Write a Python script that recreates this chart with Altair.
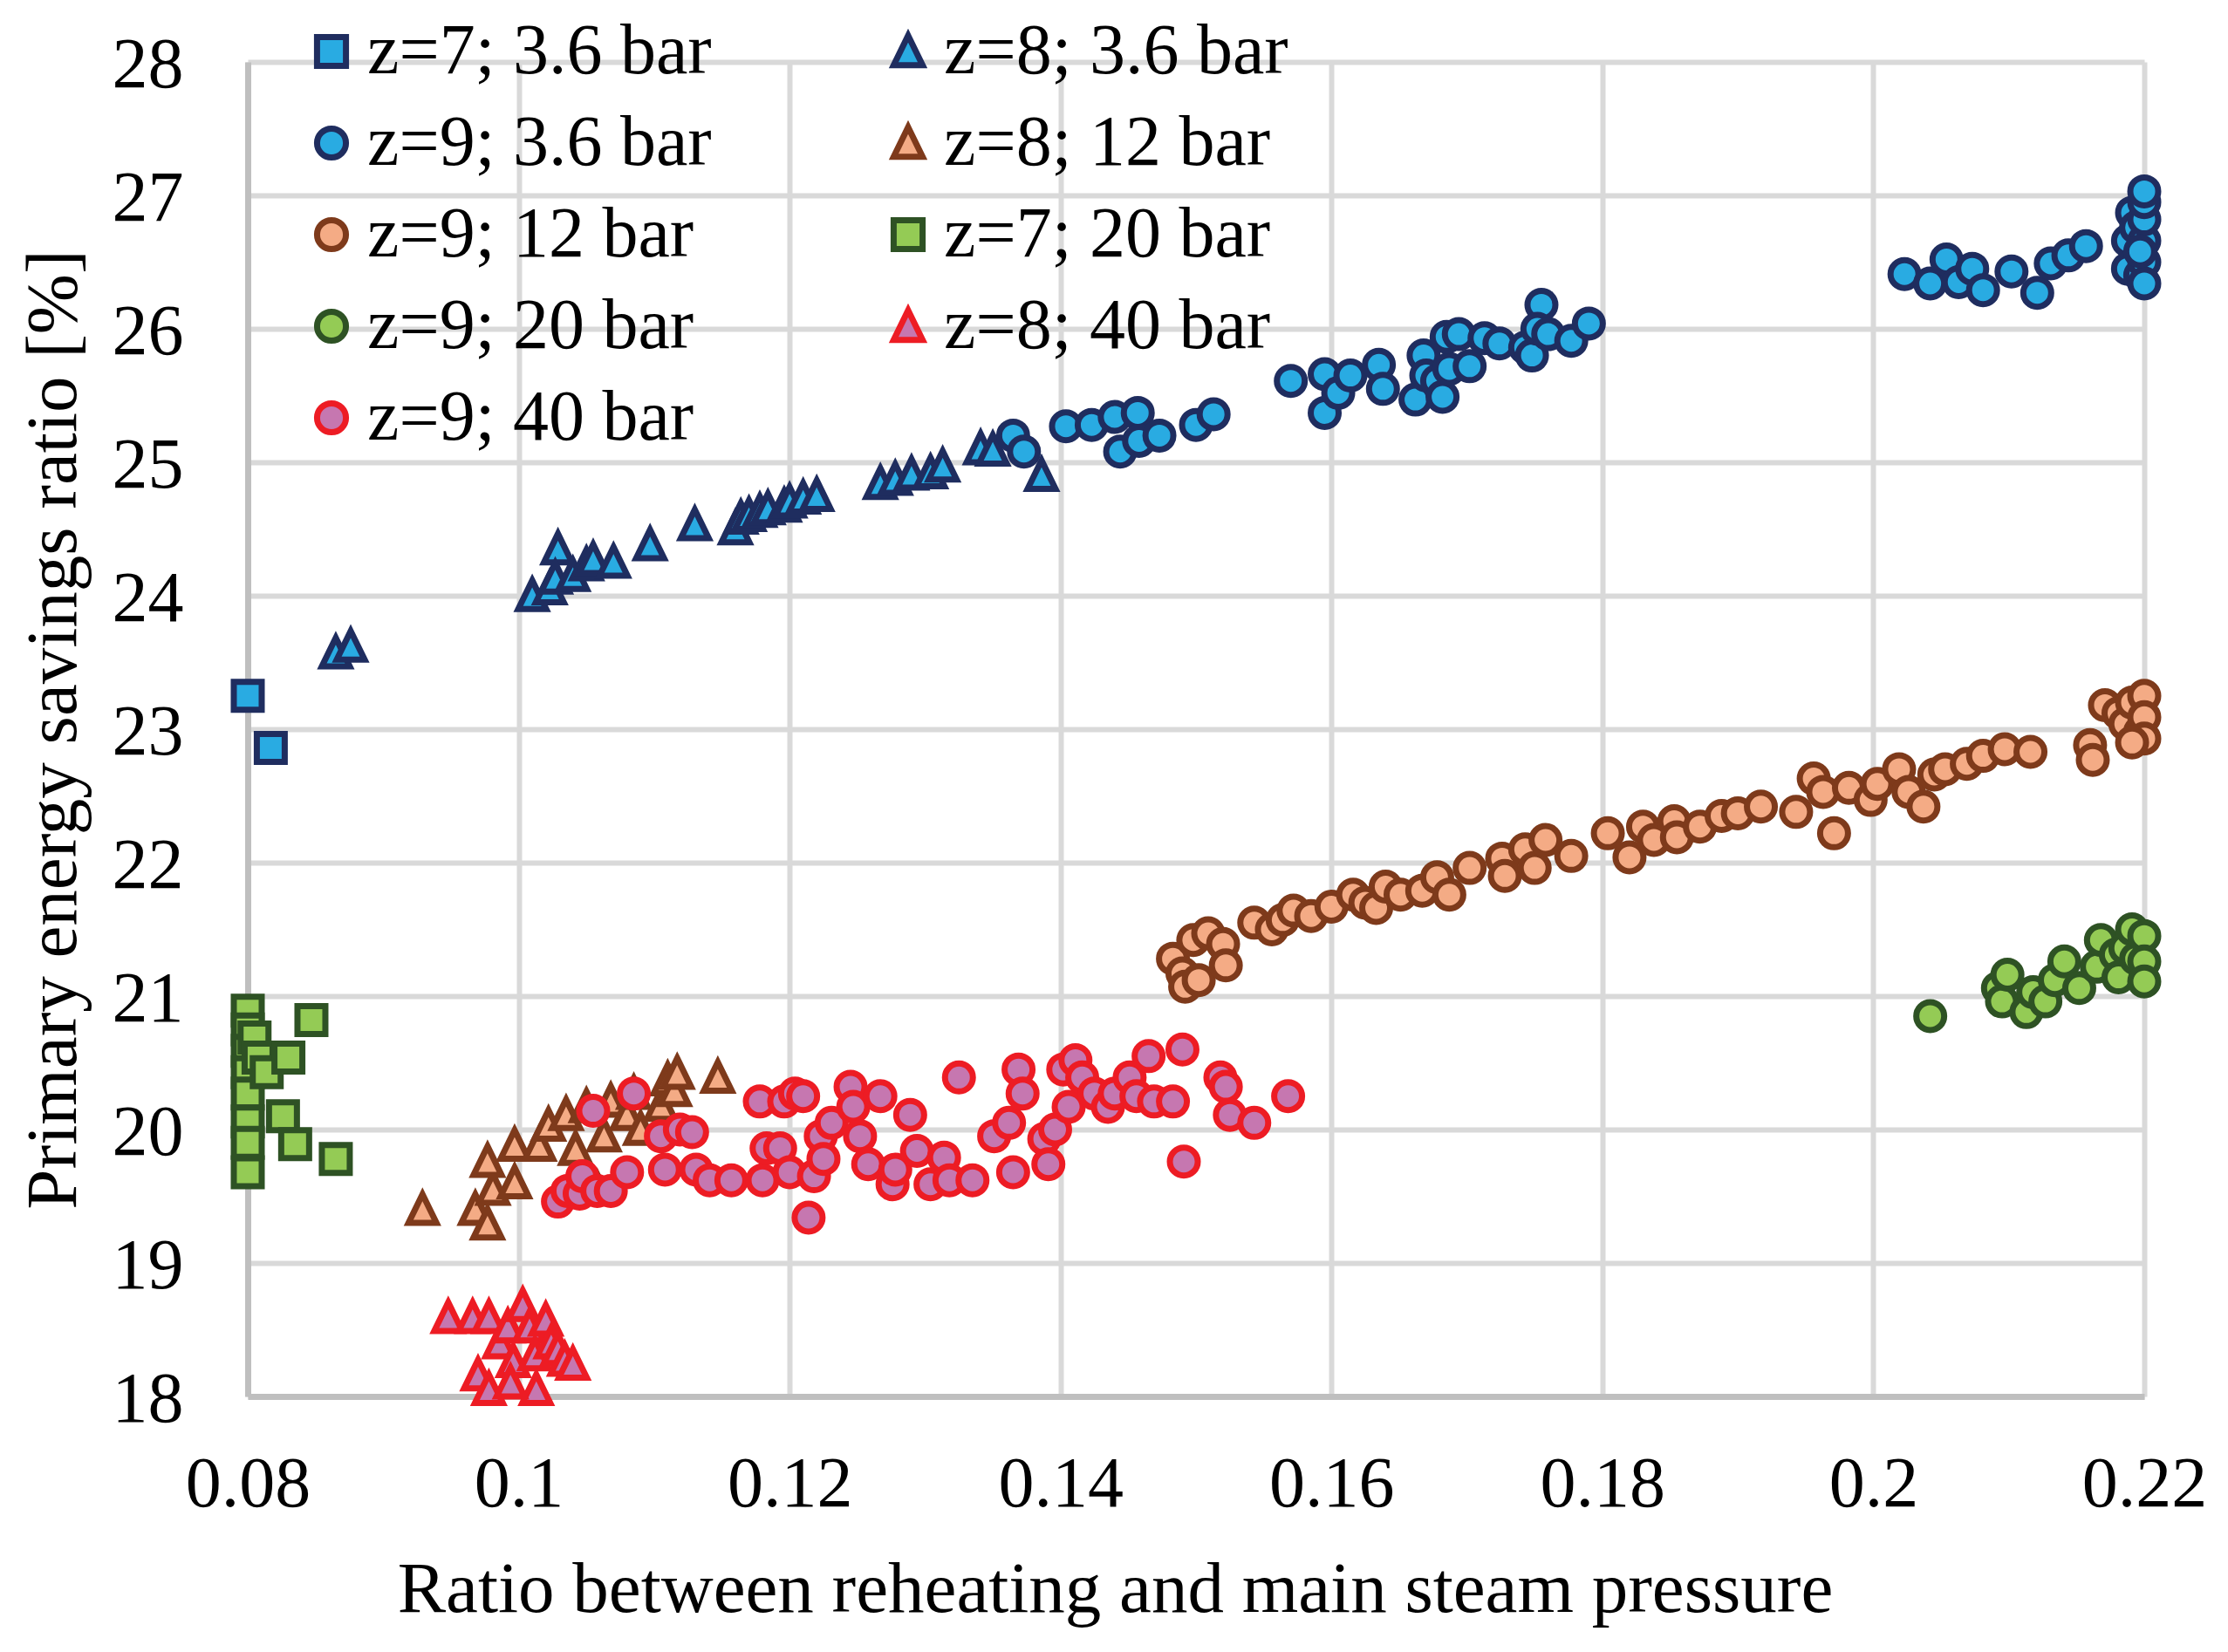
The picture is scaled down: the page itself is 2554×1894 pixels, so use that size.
import altair as alt
import pandas as pd

SERIES = [
    "z=7; 3.6 bar", "z=8; 3.6 bar", "z=9; 3.6 bar", "z=8; 12 bar", "z=9; 12 bar",
    "z=7; 20 bar", "z=9; 20 bar", "z=8; 40 bar", "z=9; 40 bar",
]
# legend fills column by column, so list the left column first
LEGEND_ORDER = [
    "z=7; 3.6 bar", "z=9; 3.6 bar", "z=9; 12 bar", "z=9; 20 bar", "z=9; 40 bar",
    "z=8; 3.6 bar", "z=8; 12 bar", "z=7; 20 bar", "z=8; 40 bar",
]

# z=7; 3.6 bar
z7_36_x = [0.0800, 0.0817]
z7_36_y = [23.25, 22.86]

# z=8; 3.6 bar
z8_36_x = [0.0865, 0.0876, 0.1010, 0.1023, 0.1029, 0.1027, 0.1040, 0.1050, 0.1055, 0.1070,
           0.1097, 0.1130, 0.1160, 0.1164, 0.1170, 0.1178, 0.1184, 0.1196, 0.1200, 0.1210,
           0.1220, 0.1267, 0.1278, 0.1290, 0.1304, 0.1313, 0.1341, 0.1350, 0.1386]
z8_36_y = [23.57, 23.62, 24.00, 24.05, 24.35, 24.13, 24.15, 24.23, 24.27, 24.25,
           24.38, 24.53, 24.50, 24.58, 24.60, 24.63, 24.65, 24.67, 24.70, 24.73,
           24.75, 24.84, 24.87, 24.91, 24.92, 24.97, 25.10, 25.09, 24.90]

# z=9; 3.6 bar
z9_36_x = [0.1365, 0.1373, 0.1404, 0.1423, 0.1440, 0.1444, 0.1457, 0.1458, 0.1473, 0.1500,
           0.1513, 0.1570, 0.1595, 0.1595, 0.1605, 0.1614, 0.1635, 0.1638, 0.1662, 0.1668,
           0.1670, 0.1678, 0.1682, 0.1687, 0.1685, 0.1694, 0.1702, 0.1713, 0.1724, 0.1743,
           0.1748, 0.1755, 0.1752, 0.1760, 0.1777, 0.1790,
           0.2023, 0.2042, 0.2054, 0.2063, 0.2073, 0.2081, 0.2102, 0.2121, 0.2131, 0.2144,
           0.2157, 0.2188, 0.2188, 0.2191, 0.2194, 0.2197, 0.2200, 0.2200, 0.2200, 0.2200,
           0.2200, 0.2200, 0.2197]
z9_36_y = [25.20, 25.08, 25.27, 25.28, 25.34, 25.08, 25.37, 25.16, 25.20, 25.28,
           25.36, 25.61, 25.66, 25.37, 25.52, 25.65, 25.73, 25.55, 25.47, 25.80,
           25.65, 25.61, 25.49, 25.70, 25.94, 25.96, 25.72, 25.93, 25.89, 25.86,
           25.80, 26.18, 26.00, 25.96, 25.91, 26.04,
           26.41, 26.34, 26.52, 26.35, 26.45, 26.29, 26.43, 26.27, 26.49, 26.55,
           26.62, 26.45, 26.66, 26.87, 26.76, 26.40, 26.50, 26.66, 26.82, 26.95,
           27.03, 26.34, 26.58]

# z=8; 12 bar
z8_12_x = [0.0929, 0.0968, 0.0977, 0.0981, 0.0977, 0.0997, 0.0997, 0.1015, 0.1022, 0.1035,
           0.1042, 0.1050, 0.1058, 0.1063, 0.1068, 0.1080, 0.1085, 0.1090, 0.1105, 0.1110,
           0.1115, 0.1117, 0.1147]
z8_12_y = [19.40, 19.40, 19.29, 19.55, 19.76, 19.60, 19.88, 19.88, 20.03, 20.11,
           19.85, 20.17, 19.55, 19.95, 20.21, 20.11, 20.27, 20.00, 20.18, 20.37,
           20.29, 20.42, 20.39]

# z=9; 12 bar
z9_12_x = [0.1483, 0.1490, 0.1492, 0.1498, 0.1502, 0.1509, 0.1520, 0.1522, 0.1543, 0.1556,
           0.1564, 0.1572, 0.1585, 0.1600, 0.1616, 0.1625, 0.1633, 0.1640, 0.1651, 0.1667,
           0.1678, 0.1687, 0.1702, 0.1726, 0.1728, 0.1743, 0.1750, 0.1758, 0.1777, 0.1804,
           0.1820, 0.1830, 0.1838, 0.1853, 0.1855, 0.1872, 0.1888, 0.1900, 0.1917, 0.1943,
           0.1956, 0.1963, 0.1971, 0.1982, 0.1998, 0.2003, 0.2019, 0.2026, 0.2037, 0.2045,
           0.2053, 0.2069, 0.2081, 0.2097, 0.2116, 0.2160, 0.2162, 0.2171, 0.2181, 0.2186,
           0.2191, 0.2197, 0.2200, 0.2200, 0.2200, 0.2191]
z9_12_y = [21.28, 21.17, 21.07, 21.42, 21.12, 21.47, 21.39, 21.23, 21.55, 21.50,
           21.57, 21.64, 21.60, 21.67, 21.76, 21.70, 21.66, 21.82, 21.76, 21.79,
           21.89, 21.76, 21.96, 22.03, 21.90, 22.10, 21.96, 22.17, 22.05, 22.22,
           22.04, 22.27, 22.17, 22.31, 22.19, 22.27, 22.35, 22.37, 22.42, 22.38,
           22.63, 22.53, 22.22, 22.56, 22.47, 22.59, 22.70, 22.53, 22.42, 22.66,
           22.70, 22.74, 22.80, 22.85, 22.83, 22.88, 22.77, 23.18, 23.12, 23.04,
           23.20, 22.98, 23.25, 23.09, 22.93, 22.90]

# z=7; 20 bar
z7_20_x = [0.0800, 0.0800, 0.0800, 0.0800, 0.0800, 0.0800, 0.0800, 0.0800, 0.0805, 0.0808,
           0.0814, 0.0830, 0.0847, 0.0826, 0.0835, 0.0865]
z7_20_y = [20.89, 20.75, 20.59, 20.43, 20.27, 20.06, 19.90, 19.68, 20.69, 20.54,
           20.43, 20.54, 20.82, 20.10, 19.89, 19.78]

# z=9; 20 bar
z9_20_x = [0.2042, 0.2092, 0.2095, 0.2099, 0.2113, 0.2118, 0.2127, 0.2134, 0.2141, 0.2152,
           0.2165, 0.2168, 0.2179, 0.2181, 0.2186, 0.2191, 0.2194, 0.2200, 0.2200, 0.2200]
z9_20_y = [20.85, 21.06, 20.96, 21.16, 20.88, 21.03, 20.96, 21.12, 21.26, 21.06,
           21.22, 21.42, 21.31, 21.14, 21.36, 21.50, 21.28, 21.45, 21.26, 21.11]

# z=8; 40 bar
z8_40_x = [0.0948, 0.0966, 0.0978, 0.0970, 0.0978, 0.0986, 0.0992, 0.0996, 0.1003, 0.1008,
           0.1012, 0.1013, 0.1020, 0.1024, 0.1029, 0.1034, 0.1040, 0.0994]
z8_40_y = [18.59, 18.59, 18.59, 18.16, 18.05, 18.40, 18.52, 18.26, 18.68, 18.52,
           18.31, 18.05, 18.57, 18.40, 18.35, 18.27, 18.24, 18.10]

# z=9; 40 bar
z9_40_x = [0.1029, 0.1036, 0.1045, 0.1047, 0.1055, 0.1058, 0.1068, 0.1080, 0.1085, 0.1105,
           0.1108, 0.1119, 0.1128, 0.1131, 0.1141, 0.1157, 0.1178, 0.1180, 0.1183, 0.1193,
           0.1196, 0.1200, 0.1204, 0.1210, 0.1214, 0.1218, 0.1223, 0.1225, 0.1231, 0.1245,
           0.1247, 0.1252, 0.1258, 0.1267, 0.1276, 0.1278, 0.1289, 0.1294, 0.1304, 0.1314,
           0.1318, 0.1325, 0.1335, 0.1351, 0.1362, 0.1365, 0.1369, 0.1372, 0.1388, 0.1391,
           0.1396, 0.1402, 0.1406, 0.1411, 0.1416, 0.1425, 0.1435, 0.1440, 0.1451, 0.1456,
           0.1465, 0.1469, 0.1483, 0.1490, 0.1491, 0.1518, 0.1522, 0.1525, 0.1543, 0.1568]
z9_40_y = [19.46, 19.54, 19.52, 19.65, 20.14, 19.54, 19.54, 19.68, 20.27, 19.95,
           19.70, 20.00, 19.98, 19.70, 19.62, 19.62, 20.21, 19.62, 19.86, 19.86,
           20.21, 19.68, 20.27, 20.25, 19.34, 19.65, 19.95, 19.78, 20.05, 20.32,
           20.17, 19.95, 19.74, 20.25, 19.59, 19.70, 20.11, 19.84, 19.59, 19.79,
           19.62, 20.39, 19.62, 19.95, 20.05, 19.68, 20.45, 20.27, 19.93, 19.74,
           20.00, 20.45, 20.17, 20.52, 20.39, 20.27, 20.17, 20.27, 20.39, 20.25,
           20.55, 20.21, 20.21, 20.60, 19.76, 20.39, 20.32, 20.11, 20.05, 20.25]

# marker styles, in LEGEND_ORDER
BLUE, BLUE_EDGE = "#29ABE2", "#1F2D5F"
PEACH, PEACH_EDGE = "#F4AB85", "#7E3A1B"
GREEN, GREEN_EDGE = "#94CB55", "#2E5224"
PINK, PINK_EDGE = "#C677B0", "#ED1C24"
TRIANGLE = "M0,-1.1L1,0.95L-1,0.95Z"

FILLS = [BLUE, BLUE, PEACH, GREEN, PINK, BLUE, PEACH, GREEN, PINK]
STROKES = [BLUE_EDGE, BLUE_EDGE, PEACH_EDGE, GREEN_EDGE, PINK_EDGE,
           BLUE_EDGE, PEACH_EDGE, GREEN_EDGE, PINK_EDGE]
SHAPES = ["square", "circle", "circle", "circle", "circle",
          TRIANGLE, TRIANGLE, "square", TRIANGLE]

series_xy = [
    (z7_36_x, z7_36_y), (z8_36_x, z8_36_y), (z9_36_x, z9_36_y),
    (z8_12_x, z8_12_y), (z9_12_x, z9_12_y), (z7_20_x, z7_20_y),
    (z9_20_x, z9_20_y), (z8_40_x, z8_40_y), (z9_40_x, z9_40_y),
]

# rows in plotting order, so later series are drawn on top
rows = []
for name, (xs, ys) in zip(SERIES, series_xy):
    for x, y in zip(xs, ys):
        rows.append({"series": name, "ratio": x, "pes": y})
df = pd.DataFrame(rows)

FONT = "Liberation Serif"

chart = (
    alt.Chart(df)
    .mark_point(filled=True, opacity=1, size=1024, strokeWidth=7, strokeOpacity=1)
    .encode(
        x=alt.X("ratio:Q", title="Ratio between reheating and main steam pressure",
                scale=alt.Scale(domain=[0.08, 0.22], nice=False, zero=False),
                axis=alt.Axis(values=[0.08, 0.1, 0.12, 0.14, 0.16, 0.18, 0.2, 0.22],
                              format=".2~f", labelFlush=False, labelOverlap=False,
                              labelBaseline="alphabetic", labelPadding=125,
                              titleX=994, titleY=246, titleBaseline="alphabetic")),
        y=alt.Y("pes:Q", title="Primary energy savings ratio [%]",
                scale=alt.Scale(domain=[18, 28], nice=False, zero=False),
                axis=alt.Axis(values=list(range(18, 29)), labelPadding=74,
                              labelBaseline="alphabetic", labelOffset=28,
                              titleX=-198, titleY=765, titleBaseline="alphabetic")),
        fill=alt.Fill("series:N", scale=alt.Scale(domain=LEGEND_ORDER, range=FILLS),
                      legend=alt.Legend(title=None, orient="none", columns=2,
                                        legendX=55, legendY=-53, padding=0,
                                        columnPadding=184, rowPadding=23,
                                        labelOffset=0, symbolSize=1100,
                                        symbolStrokeWidth=7, labelFont=FONT,
                                        labelFontSize=82, labelColor="black",
                                        labelLimit=0)),
        stroke=alt.Stroke("series:N", scale=alt.Scale(domain=LEGEND_ORDER, range=STROKES)),
        shape=alt.Shape("series:N", scale=alt.Scale(domain=LEGEND_ORDER, range=SHAPES)),
    )
    .properties(
        width=2174, height=1530,
        autosize=alt.AutoSizeParams(type="none"),
        padding={"left": 276, "top": 63, "right": 88, "bottom": 285},
        background="white",
    )
    .configure_view(stroke=None)
    .configure_axis(
        labelFont=FONT, labelFontSize=82, labelColor="black",
        titleFont=FONT, titleFontSize=83, titleFontWeight="normal", titleColor="black",
        ticks=False, tickSize=0,
        grid=True, gridColor="#D9D9D9", gridWidth=6,
        domainColor="#BFBFBF", domainWidth=7,
    )
)

chart.save("out.html", embed_options={"renderer": "svg", "actions": False})
